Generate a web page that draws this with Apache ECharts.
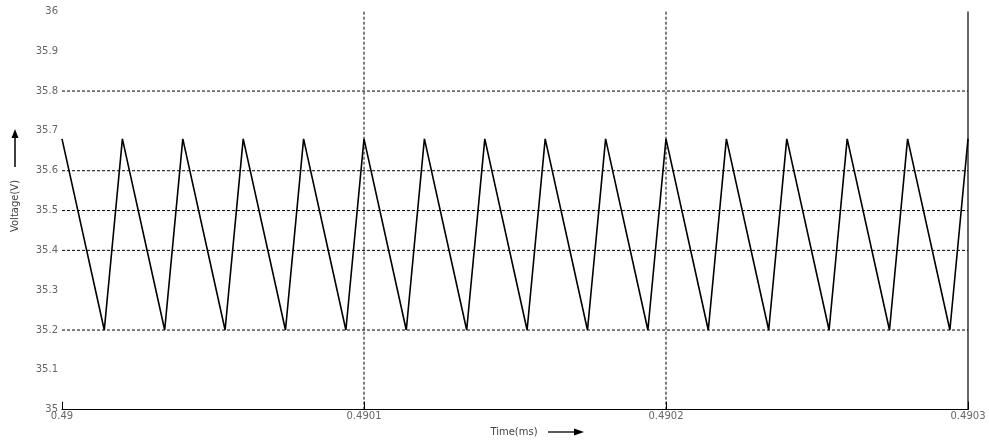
<!DOCTYPE html>
<html>
<head>
<meta charset="utf-8">
<script src="https://cdn.jsdelivr.net/npm/echarts@6/dist/echarts.min.js"></script>
<style>html,body{margin:0;padding:0;background:#fff}#c{width:989px;height:441px}</style>
</head>
<body>
<div id="c"></div>
<script>
// Sawtooth vertices (time in ms, voltage in V)
const peakTimes = [0.49000, 0.49002, 0.49004, 0.49006, 0.49008, 0.49010, 0.49012, 0.49014,
                   0.49016, 0.49018, 0.49020, 0.49022, 0.49024, 0.49026, 0.49028, 0.49030];
const peakVolts = [35.68, 35.68, 35.68, 35.68, 35.68, 35.68, 35.68, 35.68,
                   35.68, 35.68, 35.68, 35.68, 35.68, 35.68, 35.68, 35.68];
const troughTimes = [0.490014, 0.490034, 0.490054, 0.490074, 0.490094, 0.490114, 0.490134, 0.490154,
                     0.490174, 0.490194, 0.490214, 0.490234, 0.490254, 0.490274, 0.490294];
const troughVolts = [35.2, 35.2, 35.2, 35.2, 35.2, 35.2, 35.2, 35.2,
                     35.2, 35.2, 35.2, 35.2, 35.2, 35.2, 35.2];
const hGridValues = [35.8, 35.6, 35.5, 35.4, 35.2];
const vGridValues = [0.4901, 0.4902];
const borderX = 0.4903;
const yRange = [35, 36];
const yTitle = 'Voltage(V)';
const xTitle = 'Time(ms)';

const pts = [];
for (let i = 0; i < peakTimes.length; i++) {
  pts.push([peakTimes[i], peakVolts[i]]);
  if (i < troughTimes.length) pts.push([troughTimes[i], troughVolts[i]]);
}

const chart = echarts.init(document.getElementById('c'), null, {renderer: 'canvas'});
const dashed = {color: '#000', type: [3, 2], width: 1};
const labelStyle = {color: '#666', fontSize: 10, fontFamily: 'DejaVu Sans'};

const vLineSeries = vGridValues.map(v => ({
  type: 'line', data: [[v, yRange[0]], [v, yRange[1]]], symbol: 'none', silent: true,
  lineStyle: dashed, z: 1
}));
vLineSeries.push({
  type: 'line', data: [[borderX, yRange[0]], [borderX, yRange[1]]], symbol: 'none', silent: true,
  lineStyle: {color: '#000', width: 1.2}, z: 4
});
const hLineSeries = hGridValues.map(v => ({
  type: 'line', data: [[0.49, v], [borderX, v]], symbol: 'none', silent: true,
  lineStyle: dashed, z: 1
}));

chart.setOption({
  animation: false,
  backgroundColor: '#fff',
  grid: {left: 62, right: 21, top: 11.4, bottom: 31.3},
  xAxis: {
    type: 'value', min: 0.49, max: 0.4903, interval: 0.0001,
    axisLine: {show: true, onZero: false, lineStyle: {color: '#000', width: 1.2}},
    axisTick: {show: true, inside: true, length: 8, lineStyle: {color: '#000'}},
    axisLabel: Object.assign({margin: 2, formatter: v => Number(v.toFixed(4)).toString()}, labelStyle),
    splitLine: {show: false}
  },
  yAxis: {
    type: 'value', min: yRange[0], max: yRange[1], interval: 0.1,
    axisLine: {show: false, onZero: false},
    axisTick: {show: false},
    axisLabel: Object.assign({margin: 4, formatter: v => Number(v.toFixed(1)).toString()}, labelStyle),
    splitLine: {show: false}
  },
  series: [{
    type: 'line',
    data: pts,
    showSymbol: false,
    symbol: 'none',
    lineStyle: {color: '#000', width: 1.6},
    z: 3
  }].concat(hLineSeries, vLineSeries),
  graphic: [
    {type: 'text', x: 15, y: 206, rotation: Math.PI / 2,
      style: {text: yTitle, fill: '#444', font: '10px DejaVu Sans', align: 'center', verticalAlign: 'middle'}},
    {type: 'line', shape: {x1: 15, y1: 167, x2: 15, y2: 136}, style: {stroke: '#000', lineWidth: 1.5}},
    {type: 'polygon', shape: {points: [[15, 129], [11.5, 138], [18.5, 138]]}, style: {fill: '#000'}},
    {type: 'text', x: 514, y: 432, style: {text: xTitle, fill: '#444', font: '10px DejaVu Sans', align: 'center', verticalAlign: 'middle'}},
    {type: 'line', shape: {x1: 548, y1: 432, x2: 576, y2: 432}, style: {stroke: '#000', lineWidth: 1.3}},
    {type: 'polygon', shape: {points: [[584, 432], [574, 428.5], [574, 435.5]]}, style: {fill: '#000'}}
  ]
});
</script>
</body>
</html>
